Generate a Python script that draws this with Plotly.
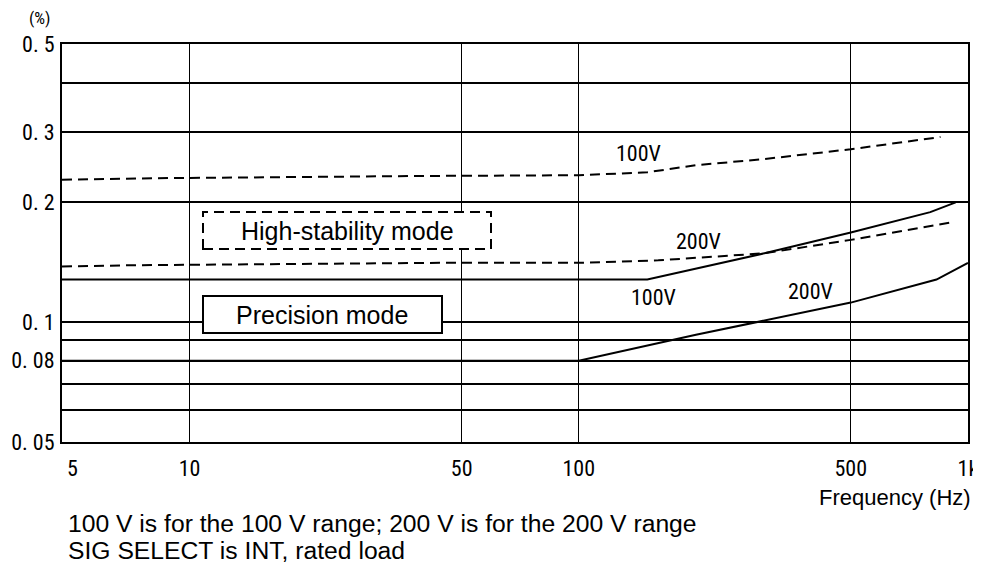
import math
import plotly.graph_objects as go

# ---- data ----
# High-stability mode (dashed)
hs100_freq = [4.7, 8, 40, 100, 150, 200, 300, 500, 850]
hs100_val = [0.228, 0.230, 0.233, 0.234, 0.238, 0.248, 0.257, 0.272, 0.292]
hs200_freq = [4.7, 7, 45, 100, 160, 300, 500, 900]
hs200_val = [0.138, 0.139, 0.141, 0.141, 0.143, 0.149, 0.161, 0.178]
# Precision mode (solid)
pr100_freq = [4.7, 150, 300, 500, 800, 930]
pr100_val = [0.128, 0.128, 0.149, 0.168, 0.189, 0.200]
pr200_freq = [4.7, 100, 200, 300, 500, 830, 1000]
pr200_val = [0.080, 0.080, 0.093, 0.101, 0.112, 0.128, 0.141]

x_tick_vals = [5, 10, 50, 100, 500, 1000]
x_tick_text = ["5", "10", "50", "100", "500", "1k"]
x_grid_vals = [10, 50, 100, 500]
y_tick_vals = [0.05, 0.08, 0.1, 0.2, 0.3, 0.5]
y_tick_text = ["0. 05", "0. 08", "0. 1", "0. 2", "0. 3", "0. 5"]
y_minor_grid_vals = [0.06, 0.07, 0.09, 0.4]

NUM_FONT = "Liberation Sans Narrow, Arial Narrow, Roboto Condensed, DejaVu Sans Condensed, sans-serif"
TXT_FONT = "Liberation Sans, Arial, sans-serif"

fig = go.Figure()
series = [
    (hs100_freq, hs100_val, "10px,6px"),
    (hs200_freq, hs200_val, "10px,6px"),
    (pr100_freq, pr100_val, "solid"),
    (pr200_freq, pr200_val, "solid"),
]
for f, v, d in series:
    fig.add_trace(go.Scatter(x=f, y=v, mode="lines",
                             line=dict(color="black", width=2, dash=d),
                             hoverinfo="skip", showlegend=False))

# page coordinates of the plot area (the page body has an 8px margin)
OFF = 8
L, R, T, B = 62, 968, 44, 442
W, H = 981 - OFF, 565 - OFF


def px(xp):
    return (xp - L) / (R - L)


def py(yp):
    return (B - yp) / (B - T)


shapes = [
    dict(type="rect", xref="paper", yref="paper",
         x0=px(203), x1=px(491), y0=py(249), y1=py(212),
         line=dict(color="black", width=2, dash="10px,6px"),
         fillcolor="white", layer="above"),
    dict(type="rect", xref="paper", yref="paper",
         x0=px(203), x1=px(442), y0=py(333), y1=py(296),
         line=dict(color="black", width=2),
         fillcolor="white", layer="above"),
]

annotations = [
    dict(text="High-stability mode", x=px(347), y=py(231)),
    dict(text="Precision mode", x=px(322), y=py(315)),
]
for a in annotations:
    a.update(xref="paper", yref="paper", showarrow=False,
             xanchor="center", yanchor="middle",
             font=dict(family=TXT_FONT, size=25, color="black"))

curve_labels = [
    ("100V", 638, 153),
    ("200V", 698, 241),
    ("100V", 653, 297),
    ("200V", 810, 291),
]
for t, xx, yy in curve_labels:
    annotations.append(dict(text=t, x=px(xx), y=py(yy), xref="paper", yref="paper",
                            showarrow=False, xanchor="center", yanchor="middle",
                            font=dict(family=NUM_FONT, size=22, color="black")))

annotations += [
    dict(text="(%)", x=px(40), y=py(18), xref="paper", yref="paper", showarrow=False,
         xanchor="center", yanchor="middle",
         font=dict(family=NUM_FONT, size=17, color="black")),
    dict(text="Frequency (Hz)", x=px(973), y=py(497), xref="paper", yref="paper",
         showarrow=False, xanchor="right", yanchor="middle",
         font=dict(family=TXT_FONT, size=22, color="black")),
    dict(text="100 V is for the 100 V range; 200 V is for the 200 V range",
         x=px(66), y=py(523), xref="paper", yref="paper", showarrow=False,
         xanchor="left", yanchor="middle",
         font=dict(family=TXT_FONT, size=24.7, color="black")),
    dict(text="SIG SELECT is INT, rated load",
         x=px(66), y=py(550), xref="paper", yref="paper", showarrow=False,
         xanchor="left", yanchor="middle",
         font=dict(family=TXT_FONT, size=24.7, color="black")),
]

fig.update_layout(
    width=W, height=H,
    margin=dict(l=L - OFF, r=W + OFF - R, t=T - OFF, b=H + OFF - B, pad=0,
                autoexpand=False),
    paper_bgcolor="white", plot_bgcolor="white",
    showlegend=False,
    shapes=shapes,
    annotations=annotations,
    xaxis=dict(type="log", range=[math.log10(4.7), 3.0001],
               tickmode="array", tickvals=x_tick_vals, ticktext=x_tick_text,
               showgrid=False, ticks="", zeroline=False, automargin=False,
               showline=True, mirror=True, linecolor="black", linewidth=2,
               ticklabelstandoff=6,
               tickfont=dict(family=NUM_FONT, size=22, color="black"),
               minor=dict(tickmode="array", tickvals=x_grid_vals, showgrid=True,
                          gridcolor="black", gridwidth=1, ticks="")),
    yaxis=dict(type="log", range=[math.log10(0.05), math.log10(0.5)],
               tickmode="array", tickvals=y_tick_vals, ticktext=y_tick_text,
               showgrid=True, gridcolor="black", gridwidth=2,
               ticks="", zeroline=False, automargin=False,
               showline=True, mirror=True, linecolor="black", linewidth=2,
               ticklabelstandoff=1,
               tickfont=dict(family=NUM_FONT, size=22, color="black"),
               minor=dict(tickmode="array", tickvals=y_minor_grid_vals, showgrid=True,
                          gridcolor="black", gridwidth=2, ticks="")),
)

fig.write_html("out.html")
